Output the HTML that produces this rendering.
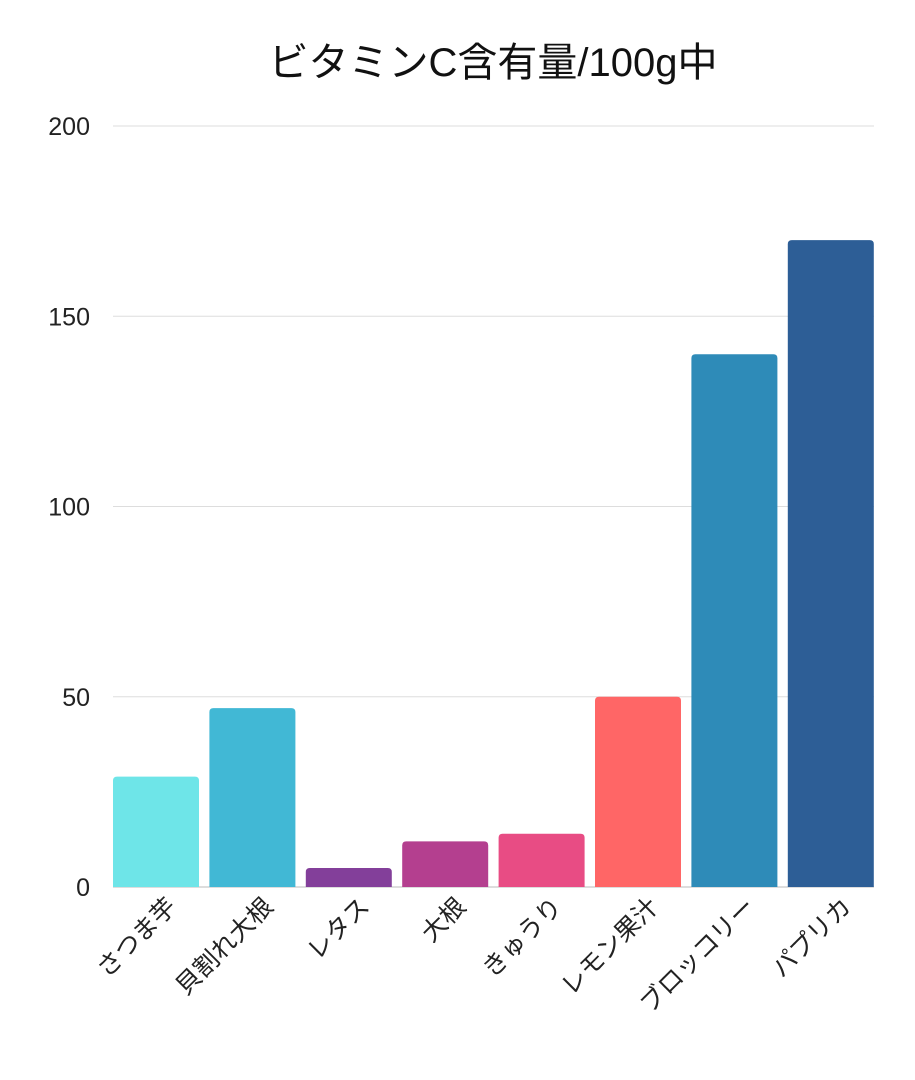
<!DOCTYPE html>
<html><head><meta charset="utf-8"><style>
html,body{margin:0;padding:0;background:#fff;width:915px;height:1080px;overflow:hidden}
text{font-family:"Liberation Sans","Noto Sans CJK JP",sans-serif}
</style></head><body>
<svg id="chart" width="915" height="1080" xmlns="http://www.w3.org/2000/svg">
<text x="493" y="76" font-size="40" text-anchor="middle" fill="#111">ビタミンC含有量/100g中</text>
<g id="grid"></g><g id="bars"></g><g id="labels"></g>
</svg>
<script>
const categories=["さつま芋","貝割れ大根","レタス","大根","きゅうり","レモン果汁","ブロッコリー","パプリカ"];
const values=[29,47,5,12,14,50,140,170];
const yTicks=[0,50,100,150,200];
const colors=["#6ee5e8","#41b8d5","#833f9a","#b43f8f","#e84c84","#ff6666","#2e8bb8","#2d5e96"];
const ns="http://www.w3.org/2000/svg";
const x0=113,x1=874,y0=887,y1=126,yMax=200;
const band=96.4,bw=86;
const y=v=>y0-(v/yMax)*(y0-y1);
const xb=i=>x0+i*band;
const svg=document.getElementById('chart');
const grid=document.getElementById('grid'),bars=document.getElementById('bars'),labels=document.getElementById('labels');
yTicks.forEach(t=>{
 const l=document.createElementNS(ns,'line');
 
 
 l.setAttribute('x1',x0);l.setAttribute('x2',x1);l.setAttribute('y1',y(t));l.setAttribute('y2',y(t));
 l.setAttribute('stroke',t===0?'#bbb':'#ddd');l.setAttribute('stroke-width','1');
 grid.appendChild(l);
 const tx=document.createElementNS(ns,'text');
 
 
 tx.setAttribute('x',90);tx.setAttribute('y',y(t)+9);tx.setAttribute('font-size','25');tx.setAttribute('text-anchor','end');tx.setAttribute('fill','#222');
 tx.textContent=t;grid.appendChild(tx);
});
values.forEach((v,i)=>{
 const h=y0-y(v),x=xb(i),r=Math.min(4,h/2);
 const p=document.createElementNS(ns,'path');
 
 
 p.setAttribute('d',`M${x},${y0}V${y(v)+r}Q${x},${y(v)} ${x+r},${y(v)}H${x+bw-r}Q${x+bw},${y(v)} ${x+bw},${y(v)+r}V${y0}Z`);
 p.setAttribute('fill',colors[i]);
 bars.appendChild(p);
 const t=document.createElementNS(ns,'text');
 
 
 const ax=x+bw/2+22,ay=908;
 t.setAttribute('x',ax);t.setAttribute('y',ay);t.setAttribute('font-size','25');t.setAttribute('text-anchor','end');t.setAttribute('fill','#222');
 t.setAttribute('transform',`rotate(-45 ${ax} ${ay})`);
 t.textContent=categories[i];labels.appendChild(t);
});
</script>
</body></html>
